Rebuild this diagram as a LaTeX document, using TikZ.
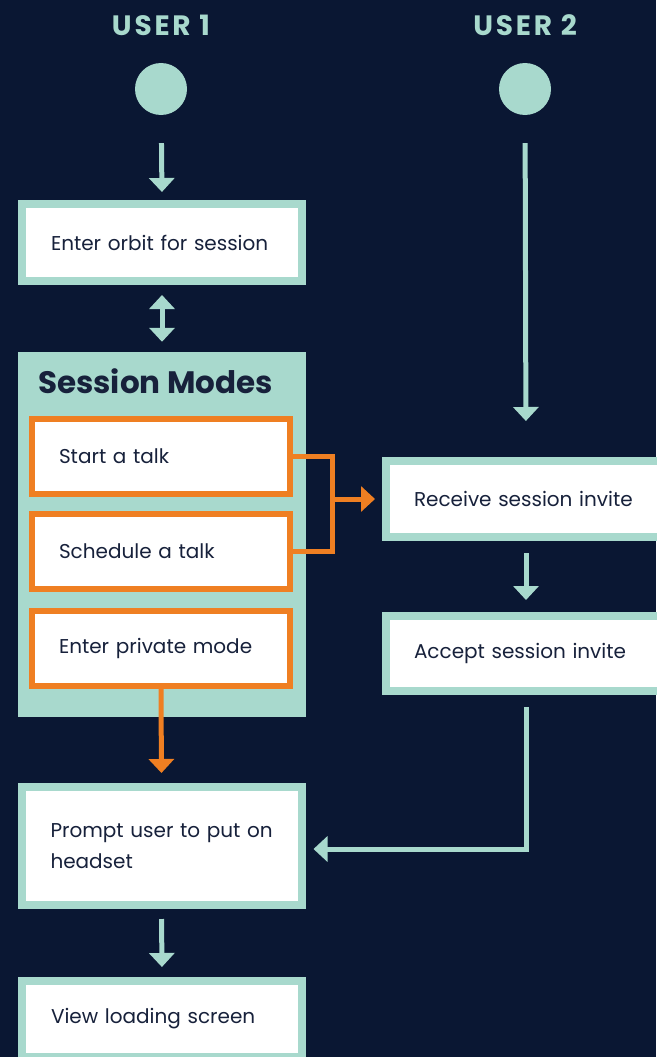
\documentclass[tikz,border=0pt]{standalone}
\usepackage{fontspec}
\setmainfont{Poppins}
\usetikzlibrary{arrows.meta}
\definecolor{navy}{HTML}{0A1733}
\definecolor{mint}{HTML}{A8D9CD}
\definecolor{orng}{HTML}{EF7F22}
\definecolor{ink}{HTML}{17213B}
\begin{document}
\begin{tikzpicture}[x=1pt,y=-1pt,
  userlbl/.style={text=mint,font=\fontsize{28}{30}\selectfont\bfseries\addfontfeature{LetterSpace=10}},
  dot/.style={circle,fill=mint,minimum size=52,inner sep=0},
  mintbox/.style={draw=mint,line width=8,fill=white,text=ink,align=left,
     minimum width=280,text width=222,inner xsep=29,font=\fontsize{20}{31}\selectfont},
  orbox/.style={draw=orng,line width=6,fill=white,text=ink,align=left,
     minimum width=258,minimum height=75,text width=204,inner xsep=27,font=\fontsize{20}{24}\selectfont},
  container/.style={fill=mint,minimum width=288,minimum height=365,inner sep=0},
  marrow/.style={draw=mint,line width=5,-{Triangle[width=25pt,length=14pt]}},
  darrow/.style={draw=mint,line width=5,{Triangle[width=25pt,length=14pt]}-{Triangle[width=25pt,length=14pt]}},
  oline/.style={draw=orng,line width=5,line join=miter},
  oarrow/.style={draw=orng,line width=5,-{Triangle[width=25pt,length=14pt]}}
]
\useasboundingbox (0,0) rectangle (656,1057);
\fill[navy] (0,0) rectangle (656,1057);

\node[userlbl] (l1) at (161,25) {USER 1};
\node[userlbl] (l2) at (525,25) {USER 2};
\node[dot] (u1) at (161,89) {};
\node[dot] (u2) at (525,89) {};

\node[mintbox,minimum height=77] (orbit) at (162,242.5) {Enter orbit for session};

\node[container] (modes) at (162,534.5) {};
\node[anchor=base west,text=ink,inner sep=0,font=\fontsize{31}{33}\selectfont\bfseries] (mtitle) at (38,393) {Session Modes};
\node[orbox] (start) at (161,456) {Start a talk};
\node[orbox] (sched) at (161,551.5) {Schedule a talk};
\node[orbox] (priv) at (161,648.5) {Enter private mode};

\node[mintbox,minimum height=76,inner xsep=28,text width=224] (recv) at (526,499) {Receive session invite};
\node[mintbox,minimum height=75,inner xsep=28,text width=224] (acc) at (526,653.5) {Accept session invite};

\node[mintbox,minimum height=118] (prompt) at (161.5,846) {\mbox{Prompt user to put on}\\headset};
\node[mintbox,minimum height=76] (view) at (162,1019) {View loading screen};

\coordinate (j) at (332,499);

\draw[marrow,shorten <=28pt,shorten >=8pt] (u1) -- (orbit.north);
\draw[darrow,shorten <=10pt,shorten >=10pt] (orbit.south) -- (modes.north);
\draw[marrow,shorten <=28pt,shorten >=36pt] (u2) -- (recv.north);
\draw[marrow,shorten <=12pt,shorten >=12pt] (recv.south) -- (acc.north);
\draw[marrow,shorten <=12pt,shorten >=8pt] (acc.south) |- ([yshift=-3pt]prompt.east);
\draw[oline] (start.east) -| (j) |- (sched.east);
\draw[oarrow,shorten >=7pt] (j) -- (recv.west);
\draw[oarrow,shorten >=10pt] (priv.south) -- (prompt.north);
\draw[marrow,shorten <=10pt,shorten >=10pt] (prompt.south) -- (view.north);
\end{tikzpicture}
\end{document}
